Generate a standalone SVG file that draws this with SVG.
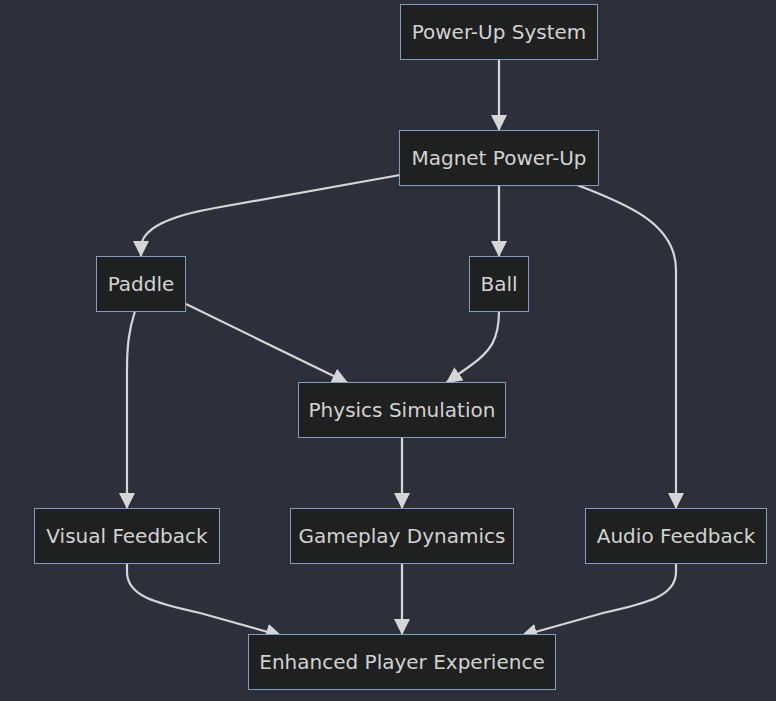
<svg xmlns="http://www.w3.org/2000/svg" width="776" height="701" viewBox="0 0 776 701">
<style>
.bg{fill:#2d303b}
.node rect{fill:#1f2020;stroke:#7f9dc3;stroke-width:1}
.node text{font-family:"DejaVu Sans",sans-serif;font-size:20px;fill:#d2d2d2;text-anchor:middle}
.edges path{fill:none;stroke:#d6d6d6;stroke-width:2.2;marker-end:url(#arrow)}
</style>
<defs>
<marker id="arrow" viewBox="0 0 10 10" refX="10" refY="5" markerWidth="16" markerHeight="16" markerUnits="userSpaceOnUse" orient="auto">
<path d="M0,0 L10,5 L0,10 z" fill="#d6d6d6"/>
</marker>
</defs>
<rect class="bg" x="0" y="0" width="776" height="701"/>
<g class="edges" id="connectors">
<path d="M499,59 L499,131"/>
<path d="M400,175 L215,208 C170,216 141,228 141,248 L141,257"/>
<path d="M499,185 L499,257"/>
<path d="M577,185 C630,205 676,225 676,270 L676,509"/>
<path d="M186,304 L348,383"/>
<path d="M135,311 C129,330 127,345 127,370 L127,509"/>
<path d="M499,311 C499,340 490,352 470,366 L446,383"/>
<path d="M402,437 L402,509"/>
<path d="M127,563 L127,572 C127,596 155,603 200,613 L282,636"/>
<path d="M402,563 L402,635"/>
<path d="M676,563 L676,572 C676,596 648,603 603,613 L521,636"/>
</g>
<g class="node" id="power-up-system"><rect x="400.5" y="4.5" width="197" height="55"/><text x="499" y="39">Power-Up System</text></g>
<g class="node" id="magnet-power-up"><rect x="399.5" y="130.5" width="199" height="55"/><text x="499" y="165">Magnet Power-Up</text></g>
<g class="node" id="paddle"><rect x="96.5" y="256.5" width="89" height="55"/><text x="141" y="291">Paddle</text></g>
<g class="node" id="ball"><rect x="469.5" y="256.5" width="59" height="55"/><text x="499" y="291">Ball</text></g>
<g class="node" id="physics-simulation"><rect x="298.5" y="382.5" width="207" height="55"/><text x="402" y="417">Physics Simulation</text></g>
<g class="node" id="visual-feedback"><rect x="34.5" y="508.5" width="185" height="55"/><text x="127" y="543">Visual Feedback</text></g>
<g class="node" id="gameplay-dynamics"><rect x="290.5" y="508.5" width="223" height="55"/><text x="402" y="543">Gameplay Dynamics</text></g>
<g class="node" id="audio-feedback"><rect x="585.5" y="508.5" width="181" height="55"/><text x="676" y="543">Audio Feedback</text></g>
<g class="node" id="enhanced-player-experience"><rect x="248.5" y="634.5" width="307" height="55"/><text x="402" y="669">Enhanced Player Experience</text></g>
</svg>
